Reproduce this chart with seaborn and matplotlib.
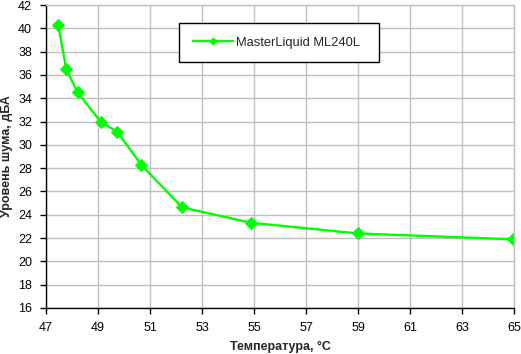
import numpy as np
import pandas as pd
import matplotlib
matplotlib.use("Agg")
import matplotlib.pyplot as plt
import seaborn as sns

# данные
temperature = [47.47, 47.78, 48.22, 49.12, 49.74, 50.67, 52.24, 54.9, 58.99, 64.97]
noise = [40.28, 36.48, 34.5, 31.93, 31.13, 28.27, 24.63, 23.31, 22.4, 21.89]
series_name = "MasterLiquid ML240L"
x_ticks = list(range(47, 66, 2))
y_ticks = list(range(16, 43, 2))

df = pd.DataFrame({"t": temperature, "n": noise})

sns.set_style("white")
plt.rcParams['font.family'] = ['Liberation Sans', 'DejaVu Sans']

fig = plt.figure(figsize=(5.21, 3.54), dpi=100)
ax = fig.add_axes([46 / 521, 1 - 308 / 354, (514 - 46) / 521, (308 - 5) / 354])

sns.lineplot(data=df, x="t", y="n", color="#00ff00", linewidth=1.7, marker="D",
             markersize=6, markeredgecolor="#00ff00", label=series_name, ax=ax)

ax.set_xlim(47, 65)
ax.set_ylim(16, 42)
ax.set_xticks(x_ticks)
ax.set_yticks(y_ticks)
ax.grid(True, color="#c0c0c0", linewidth=1)
ax.set_axisbelow(True)
for s in ["top", "right"]:
    ax.spines[s].set_color("#c0c0c0")
    ax.spines[s].set_linewidth(1)
for s in ["left", "bottom"]:
    ax.spines[s].set_color("black")
    ax.spines[s].set_linewidth(1)
ax.tick_params(axis="both", direction="out", length=4, width=1, colors="black",
               labelsize=9, bottom=True, left=True, pad=6)

ax.set_xlabel("Температура, °C", fontsize=9, fontweight="bold", labelpad=5)
ax.set_ylabel("Уровень шума, дБА", fontsize=9, fontweight="bold", labelpad=4)

# рамка легенды 179..379 px по горизонтали, верх на 23 px
leg_top = 1 - (23 - 5) / 303
leg = ax.legend(loc="upper left",
                bbox_to_anchor=((179 - 46) / 468, leg_top - 0.1, 200 / 468, 0.1),
                mode="expand", fontsize=9.3, frameon=True, fancybox=False,
                edgecolor="black", framealpha=1, borderpad=1.05, handlelength=3.1,
                handletextpad=0.3, borderaxespad=0, markerscale=0.6)
leg.get_frame().set_linewidth(1)

fig.savefig("out.png", dpi=100)
